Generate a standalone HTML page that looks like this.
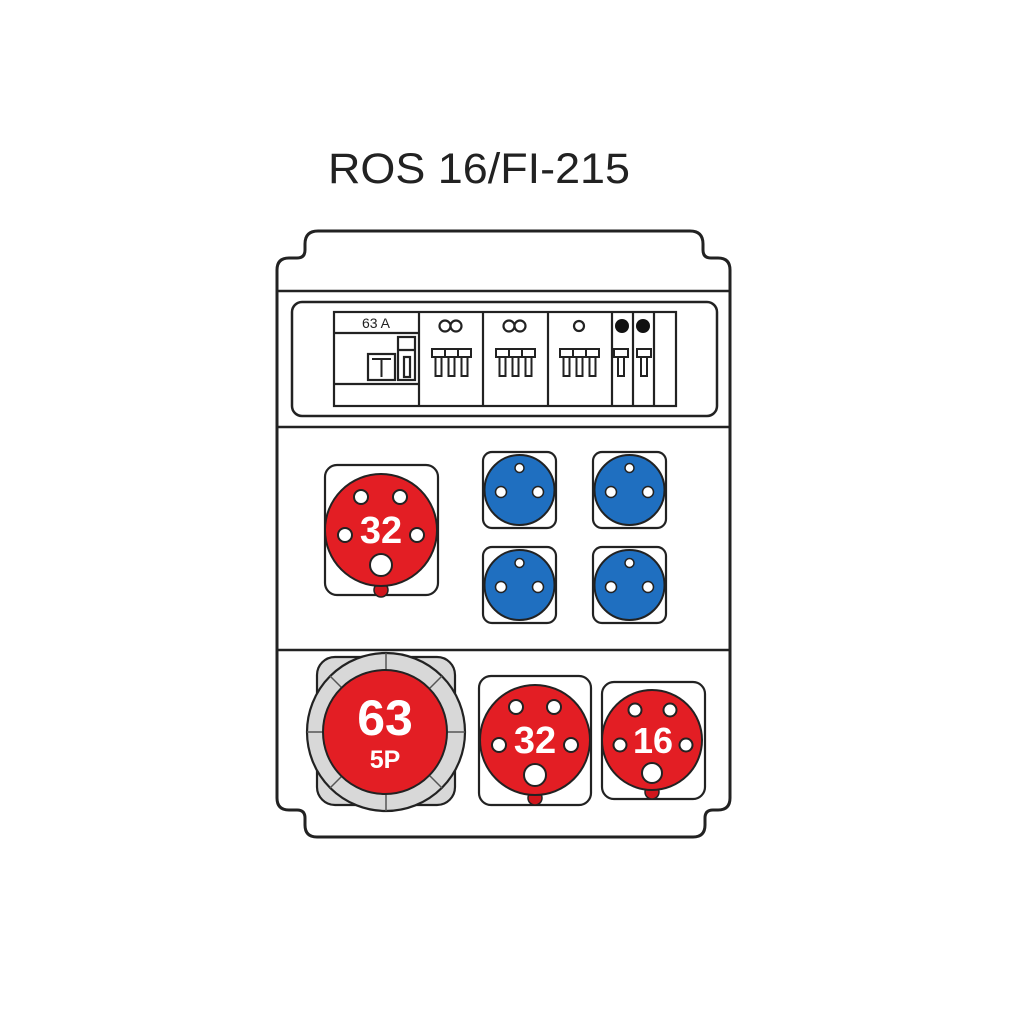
<!DOCTYPE html>
<html><head><meta charset="utf-8"><style>html,body{margin:0;padding:0;background:#fff}svg{display:block}</style></head>
<body>
<svg width="1010" height="1010" viewBox="0 0 1010 1010" xmlns="http://www.w3.org/2000/svg" font-family="Liberation Sans, sans-serif">
<text x="328" y="183" font-size="43" fill="#222" textLength="302" lengthAdjust="spacingAndGlyphs">ROS 16/FI-215</text>
<path d="M318,231 H690 Q703,231 703,244 V250 Q703,258 711,258 H718 Q730,258 730,270 V798 Q730,810 718,810 H713 Q705,810 705,818 V825 Q705,837 693,837 H317 Q305,837 305,825 V818 Q305,810 297,810 H289 Q277,810 277,798 V270 Q277,258 289,258 H297 Q305,258 305,250 V244 Q305,231 318,231 Z" fill="#fff" stroke="#222" stroke-width="3"/>
<line x1="277" y1="291" x2="730" y2="291" stroke="#222" stroke-width="2.5"/>
<line x1="277" y1="427" x2="730" y2="427" stroke="#222" stroke-width="2.5"/>
<line x1="277" y1="650" x2="730" y2="650" stroke="#222" stroke-width="2.5"/>
<rect x="292" y="302" width="425" height="114" rx="10" fill="#fff" stroke="#222" stroke-width="2.5"/>
<g stroke="#222" stroke-width="2.2" fill="#fff">
<rect x="334" y="312" width="342" height="94"/>
<line x1="419" y1="312" x2="419" y2="406"/>
<line x1="483" y1="312" x2="483" y2="406"/>
<line x1="548" y1="312" x2="548" y2="406"/>
<line x1="612" y1="312" x2="612" y2="406"/>
<line x1="633" y1="312" x2="633" y2="406"/>
<line x1="654" y1="312" x2="654" y2="406"/>
<line x1="334" y1="333" x2="419" y2="333"/>
<line x1="334" y1="384" x2="419" y2="384"/>
<rect x="368" y="354" width="27" height="26"/>
<rect x="398" y="337" width="17" height="43"/>
<line x1="398" y1="350" x2="415" y2="350"/>
<rect x="404" y="357" width="6" height="20"/>
<circle cx="445" cy="326" r="5.5"/><circle cx="456" cy="326" r="5.5"/>
<circle cx="509" cy="326" r="5.5"/><circle cx="520" cy="326" r="5.5"/>
<circle cx="579" cy="326" r="5"/>
</g>
<path d="M372,359 H391 M381.5,359 V377" stroke="#222" stroke-width="2" fill="none"/>
<text x="376" y="328" font-size="14" fill="#222" text-anchor="middle">63 A</text>
<circle cx="622" cy="326" r="7" fill="#111"/><circle cx="643" cy="326" r="7" fill="#111"/>
<g stroke="#222" stroke-width="2" fill="#fff">
<g id="tg"><rect x="432" y="349" width="13" height="8"/><rect x="445" y="349" width="13" height="8"/><rect x="458" y="349" width="13" height="8"/>
<rect x="435.5" y="357" width="6" height="19"/><rect x="448.5" y="357" width="6" height="19"/><rect x="461.5" y="357" width="6" height="19"/></g>
<use href="#tg" x="64"/><use href="#tg" x="128"/>
<rect x="614" y="349" width="14" height="8"/><rect x="618" y="357" width="6" height="19"/>
<rect x="637" y="349" width="14" height="8"/><rect x="641" y="357" width="6" height="19"/>
</g>
<!-- red 32 top -->
<rect x="325" y="465" width="113" height="130" rx="12" fill="#fff" stroke="#222" stroke-width="2.2"/>
<circle cx="381" cy="590" r="7" fill="#d0161c" stroke="#222" stroke-width="1.5"/>
<circle cx="381" cy="530" r="56" fill="#e31e24" stroke="#222" stroke-width="2"/>
<g fill="#fff" stroke="#222" stroke-width="2">
<circle cx="361" cy="497" r="7"/><circle cx="400" cy="497" r="7"/><circle cx="345" cy="535" r="7"/><circle cx="417" cy="535" r="7"/><circle cx="381" cy="565" r="11"/></g>
<text x="381" y="543" font-size="38" font-weight="bold" fill="#fff" text-anchor="middle">32</text>
<!-- blue -->
<g id="bl"><rect x="483" y="452" width="73" height="76" rx="9" fill="#fff" stroke="#222" stroke-width="2.2"/>
<circle cx="519.5" cy="490" r="35" fill="#1f6fc0" stroke="#222" stroke-width="2"/>
<g fill="#fff" stroke="#222" stroke-width="1.5"><circle cx="519.5" cy="468" r="4.5"/><circle cx="501" cy="492" r="5.5"/><circle cx="538" cy="492" r="5.5"/></g></g>
<use href="#bl" x="110"/><use href="#bl" y="95"/><use href="#bl" x="110" y="95"/>
<!-- 63 -->
<rect x="317" y="657" width="138" height="148" rx="18" fill="#d8d8d8" stroke="#222" stroke-width="2.2"/>
<circle cx="386" cy="732" r="79" fill="#d8d8d8" stroke="#222" stroke-width="2.2"/>
<g stroke="#555" stroke-width="1.5">
<line x1="386" y1="653" x2="386" y2="670"/><line x1="386" y1="794" x2="386" y2="811"/>
<line x1="307" y1="732" x2="324" y2="732"/><line x1="448" y1="732" x2="465" y2="732"/>
<line x1="330" y1="676" x2="342" y2="688"/><line x1="442" y1="676" x2="430" y2="688"/>
<line x1="330" y1="788" x2="342" y2="776"/><line x1="442" y1="788" x2="430" y2="776"/></g>
<circle cx="385" cy="732" r="62" fill="#e31e24" stroke="#222" stroke-width="2"/>
<text x="385" y="735" font-size="50" font-weight="bold" fill="#fff" text-anchor="middle">63</text>
<text x="385" y="768" font-size="25" font-weight="bold" fill="#fff" text-anchor="middle">5P</text>
<!-- 32 bottom -->
<rect x="479" y="676" width="112" height="129" rx="12" fill="#fff" stroke="#222" stroke-width="2.2"/>
<circle cx="535" cy="798" r="7" fill="#d0161c" stroke="#222" stroke-width="1.5"/>
<circle cx="535" cy="740" r="55" fill="#e31e24" stroke="#222" stroke-width="2"/>
<g fill="#fff" stroke="#222" stroke-width="2">
<circle cx="516" cy="707" r="7"/><circle cx="554" cy="707" r="7"/><circle cx="499" cy="745" r="7"/><circle cx="571" cy="745" r="7"/><circle cx="535" cy="775" r="11"/></g>
<text x="535" y="753" font-size="38" font-weight="bold" fill="#fff" text-anchor="middle">32</text>
<!-- 16 -->
<rect x="602" y="682" width="103" height="117" rx="12" fill="#fff" stroke="#222" stroke-width="2.2"/>
<circle cx="652" cy="792" r="7" fill="#d0161c" stroke="#222" stroke-width="1.5"/>
<circle cx="652" cy="740" r="50" fill="#e31e24" stroke="#222" stroke-width="2"/>
<g fill="#fff" stroke="#222" stroke-width="2">
<circle cx="635" cy="710" r="6.5"/><circle cx="670" cy="710" r="6.5"/><circle cx="620" cy="745" r="6.5"/><circle cx="686" cy="745" r="6.5"/><circle cx="652" cy="773" r="10"/></g>
<text x="653" y="753" font-size="36" font-weight="bold" fill="#fff" text-anchor="middle">16</text>
</svg>
</body></html>
